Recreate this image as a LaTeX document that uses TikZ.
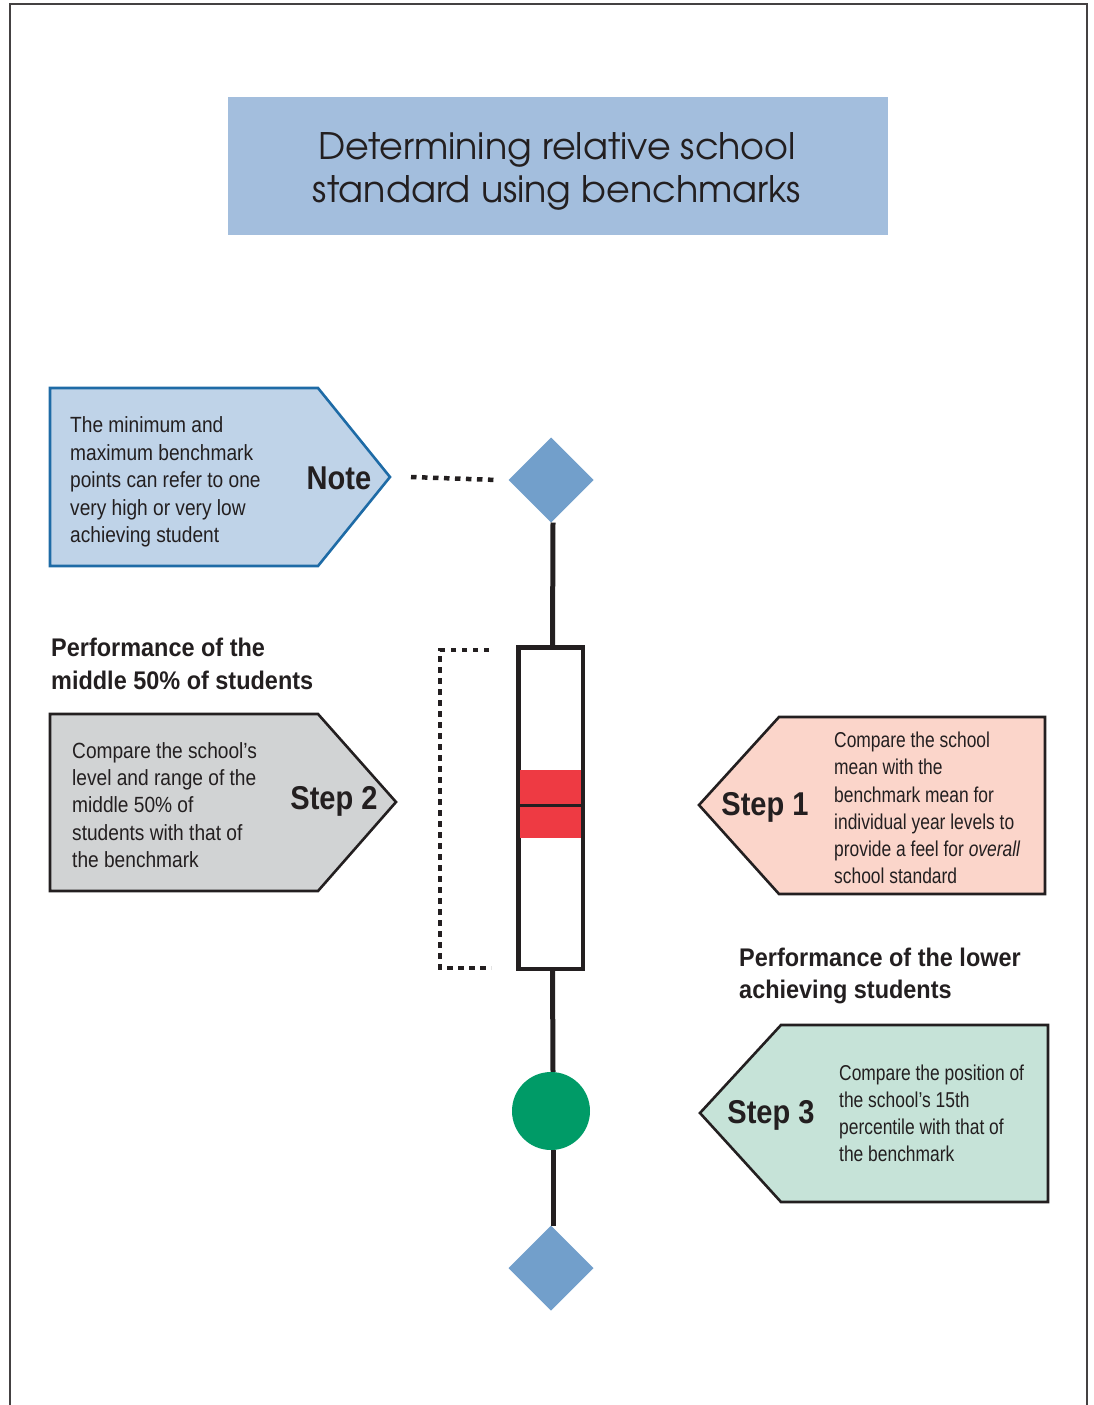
\documentclass[tikz,border=0pt]{standalone}
\usepackage{fontspec}
\setmainfont{Liberation Sans}
\newfontfamily\bodyf[FakeStretch=0.87]{Liberation Sans}
\newfontfamily\rbodyf[FakeStretch=0.81]{Liberation Sans}
\newfontfamily\headf[FakeStretch=0.92]{Liberation Sans}
\newfontfamily\labf[FakeStretch=0.88]{Liberation Sans}
\newfontfamily\titlef{TeX Gyre Adventor}
\usetikzlibrary{shapes.geometric}
\definecolor{ink}{HTML}{231F20}
\definecolor{titlebg}{HTML}{A3BEDD}
\definecolor{notefill}{HTML}{BFD3E8}
\definecolor{notedraw}{HTML}{1E6BA6}
\definecolor{diamc}{HTML}{729FCB}
\definecolor{grayfill}{HTML}{D1D3D4}
\definecolor{salmon}{HTML}{FBD5CA}
\definecolor{mint}{HTML}{C6E3D8}
\definecolor{redc}{HTML}{EE3A43}
\definecolor{greenc}{HTML}{009B67}
\begin{document}
\begin{tikzpicture}[x=1pt,y=-1pt,
  bodytext/.style={font=\bodyf\fontsize{22}{27.4}\selectfont, align=left, inner sep=0pt, text=ink, anchor=west},
  rbodytext/.style={bodytext, font=\rbodyf\fontsize{21.5}{27.2}\selectfont},
  headtext/.style={font=\headf\bfseries\fontsize{25.5}{32.5}\selectfont, align=left, inner sep=0pt, text=ink, anchor=west},
  labeltext/.style={font=\labf\bfseries\fontsize{33}{33}\selectfont, inner sep=0pt, text=ink},
  arrowbox/.style={line width=2.6pt, draw=ink, line join=miter},
  dotline/.style={line width=4.5pt, ink, dash pattern=on 5.5pt off 5.5pt, line cap=butt},
  stem/.style={line width=5pt, ink},
  benchdiam/.style={diamond, fill=diamc, minimum width=85pt, minimum height=85pt, inner sep=0pt, outer sep=0pt}
]
\useasboundingbox (0,0) rectangle (1093,1405);
% frame
\draw[line width=1.5pt, ink!85] (10,1406) |- (1087,4) -- (1087,1406);
% title
\node[fill=titlebg, minimum width=660pt, minimum height=138pt, inner sep=0pt] (title) at (558,166) {};
\node[font=\titlef\fontsize{36.5}{43}\selectfont, align=center, text=ink, inner sep=0pt] (titletext) at (557,171.5) {Determining relative school\\standard using benchmarks};

% note box
\draw[arrowbox, draw=notedraw, fill=notefill] (50,388) -- (318,388) -- (390,477) coordinate (notetip) -- (318,566) -- (50,566) -- cycle;
\node[bodytext] (notebody) at (70,482) {The minimum and\\maximum benchmark\\points can refer to one\\very high or very low\\achieving student};
\node[labeltext] (notelab) at (339,478) {Note};

% axis
\node[benchdiam] (topdia) at (551,480) {};
\node[draw=ink, line width=3pt, fill=white, minimum width=63pt, minimum height=320pt, inner sep=0pt] (box) at (550.5,808) {};
\fill[redc] (520,770) rectangle (581,838);
\draw[line width=3pt, ink] (box.west |- 0,805) -- (box.east |- 0,805);
\draw[line width=3pt, ink] (box.north west) rectangle (box.south east);
\node[circle, fill=greenc, minimum size=78pt, inner sep=0pt] (circ) at (551,1111) {};
\node[benchdiam] (botdia) at (551,1268) {};
\draw[stem] ([xshift=2pt]topdia.south) -- ([xshift=2pt]box.north);
\draw[stem] ([xshift=2pt]box.south) -- ([xshift=2pt]circ.north);
\draw[stem] ([xshift=2pt]circ.south) -- ([xshift=2pt]botdia.north);

% dotted connectors
\draw[dotline] ([xshift=21pt]notetip) -- ([xshift=-11pt]topdia.west);
\coordinate (brtop) at (489,650);
\coordinate (brbot) at (491,968);
\draw[dotline] (brtop) -- (440,650) -- (440,968) -- (brbot);

% step 2
\node[headtext] (head2) at (51,664) {Performance of the\\middle 50\% of students};
\draw[arrowbox, fill=grayfill] (50,714) -- (318,714) -- (396,802) coordinate (s2tip) -- (318,891) -- (50,891) -- cycle;
\node[bodytext] (s2body) at (72,805) {Compare the school’s\\level and range of the\\middle 50\% of\\students with that of\\the benchmark};
\node[labeltext] (s2lab) at (334,801) {Step 2};

% step 1
\draw[arrowbox, fill=salmon] (1045,717) -- (779,717) -- (699,805) coordinate (s1tip) -- (779,894) -- (1045,894) -- cycle;
\node[labeltext] (s1lab) at (765,807) {Step 1};
\node[rbodytext] (s1body) at (834,808) {Compare the school\\mean with the\\benchmark mean for\\individual year levels to\\provide a feel for \textit{overall}\\school standard};

% step 3
\node[headtext] (head3) at (739,976) {Performance of the lower\\achieving students};
\draw[arrowbox, fill=mint] (1048,1025) -- (781,1025) -- (700,1113) coordinate (s3tip) -- (781,1202) -- (1048,1202) -- cycle;
\node[labeltext] (s3lab) at (771,1115) {Step 3};
\node[rbodytext] (s3body) at (839,1113.5) {Compare the position of\\the school’s 15th\\percentile with that of\\the benchmark};
\end{tikzpicture}
\end{document}
